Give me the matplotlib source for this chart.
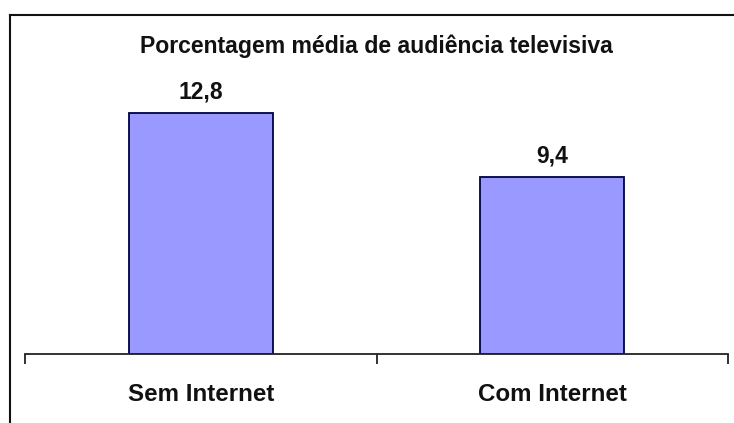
import matplotlib
matplotlib.use("Agg")
import matplotlib.pyplot as plt
from matplotlib.lines import Line2D
import numpy as np

categories = ["Sem Internet", "Com Internet"]
values = [12.8, 9.4]
value_labels = ["12,8", "9,4"]
title = "Porcentagem média de audiência televisiva"

plt.rcParams["font.family"] = ["Liberation Sans", "DejaVu Sans"]

W, H = 734, 423
fig = plt.figure(figsize=(W / 100, H / 100), dpi=100)
fig.patch.set_facecolor("white")

# axes placed in pixel terms: baseline at y=354, spanning x=25..728
ax_left, ax_right = 25, 728
ax_bottom, ax_top = 354, 60
ax = fig.add_axes([ax_left / W, (H - ax_bottom) / H,
                   (ax_right - ax_left) / W, (ax_bottom - ax_top) / H])
ax.set_facecolor("none")

x = np.arange(len(categories))
ax.bar(x, values, width=0.41, color="#9999FF", edgecolor="#000040", linewidth=1.3, zorder=2)

ax.set_xlim(-0.5, len(categories) - 0.5)
ax.set_ylim(0, 15.6)

for xi, v, lab in zip(x, values, value_labels):
    ax.annotate(lab, (xi, v), xytext=(0, 6.5), textcoords="offset points",
                ha="center", va="bottom", fontsize=16.5, fontweight="bold", color="#111111")

for s in ["top", "right", "left"]:
    ax.spines[s].set_visible(False)
ax.spines["bottom"].set_linewidth(1.3)
ax.spines["bottom"].set_color("#222222")
ax.set_yticks([])
ax.set_xticks(x)
ax.set_xticklabels(categories, fontsize=17.4, fontweight="bold", color="#111111")
ax.tick_params(axis="x", which="major", length=0, pad=21)
ax.set_xticks(np.arange(-0.5, len(categories)), minor=True)
ax.tick_params(axis="x", which="minor", length=7, width=1.3, color="#222222", direction="out")

fig.text(376 / W, 1 - 46 / H, title, ha="center", va="center",
         fontsize=16.6, fontweight="bold", color="#111111")

# frame lines along the top and left edges
fig.add_artist(Line2D([10 / W, 1.0], [1 - 15 / H, 1 - 15 / H], transform=fig.transFigure,
                      color="#111111", linewidth=1.5))
fig.add_artist(Line2D([10 / W, 10 / W], [0.0, 1 - 15 / H], transform=fig.transFigure,
                      color="#111111", linewidth=1.5))

fig.savefig("out.png", dpi=100, facecolor="white")
